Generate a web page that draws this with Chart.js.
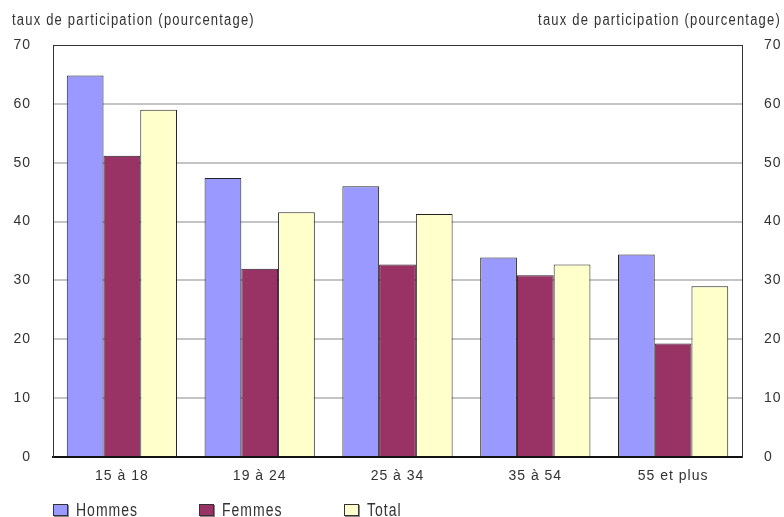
<!DOCTYPE html>
<html>
<head>
<meta charset="utf-8">
<script src="https://cdn.jsdelivr.net/npm/chart.js@4"></script>
<style>
body{margin:0;background:#fff;font-family:"Liberation Sans",Arial,sans-serif;color:#333}
#wrap{position:relative;width:784px;height:517px;overflow:hidden}
.ttl{position:absolute;top:12px;font-size:13px;letter-spacing:1.2px;white-space:nowrap;transform:scaleY(1.2)}
#legend{position:absolute;left:53px;top:502px;font-size:14px;letter-spacing:1px}
#legend span.it{position:absolute;white-space:nowrap;display:flex;align-items:center}
#legend span.t{display:inline-block;transform:scaleY(1.25)}
#legend i{display:inline-block;width:13px;height:10px;border:1px solid #333;margin-right:8px;box-shadow:1px 1px 0 #888}
</style>
</head>
<body>
<div id="wrap">
<canvas id="c" width="784" height="517"></canvas>
<div class="ttl" style="left:12px">taux de participation (pourcentage)</div>
<div class="ttl" style="right:3px">taux de participation (pourcentage)</div>
<div id="legend"></div>
</div>
<script>
// données
let categories=["15 à 18","19 à 24","25 à 34","35 à 54","55 et plus"]
let hommes=[64.8,47.4,46.0,33.9,34.4]
let femmes=[51.2,32.0,32.7,30.9,19.3]
let total=[59.0,41.6,41.3,32.7,29.0]
let seriesNames=["Hommes","Femmes","Total"]
let colors=["#9999ff","#993366","#ffffcc"]
let yMax=70
let yStep=10

let tickFont={family:"Liberation Sans",size:14}

let spacing={
id:"spacing",
beforeDraw(chart){chart.ctx.letterSpacing="1px"}
}

new Chart(document.getElementById("c"),{
type:"bar",
data:{
labels:categories,
datasets:[hommes,femmes,total].map((d,i)=>({
label:seriesNames[i],
data:d,
backgroundColor:colors[i],
borderColor:"#222",
borderWidth:1,
borderSkipped:"bottom",
categoryPercentage:0.8,
barPercentage:1.0,
yAxisID:"y"
}))
},
options:{
responsive:false,
animation:false,
layout:{padding:{top:45,bottom:30,left:0,right:0}},
plugins:{legend:{display:false},tooltip:{enabled:false}},
scales:{
x:{
grid:{display:false},
border:{display:true,color:"#111",width:2},
ticks:{color:"#333",font:tickFont,padding:3},
afterFit(s){s.height=30}
},
y:{
position:"left",
min:0,max:yMax,
ticks:{stepSize:yStep,color:"#333",font:tickFont,padding:22},
grid:{
drawTicks:false,
color:(c)=>c.tick.value===yMax?"#333":"#c4c4c4",
lineWidth:(c)=>c.tick.value===yMax?1:2
},
border:{display:true,color:"#333",width:1},
afterFit(s){s.width=53}
},
y2:{
position:"right",
min:0,max:yMax,
ticks:{stepSize:yStep,color:"#333",font:tickFont,padding:22},
grid:{display:false,drawTicks:false},
border:{display:true,color:"#333",width:1},
afterFit(s){s.width=42}
}
}
},
plugins:[spacing]
})

// légende
let lg=document.getElementById("legend")
let lx=[0,146,291]
seriesNames.forEach((n,i)=>{
let s=document.createElement("span")
s.className="it"
s.style.left=lx[i]+"px"
s.innerHTML='<i style="background:'+colors[i]+'"></i><span class="t">'+n+'</span>'
lg.appendChild(s)
})
</script>
</body>
</html>
